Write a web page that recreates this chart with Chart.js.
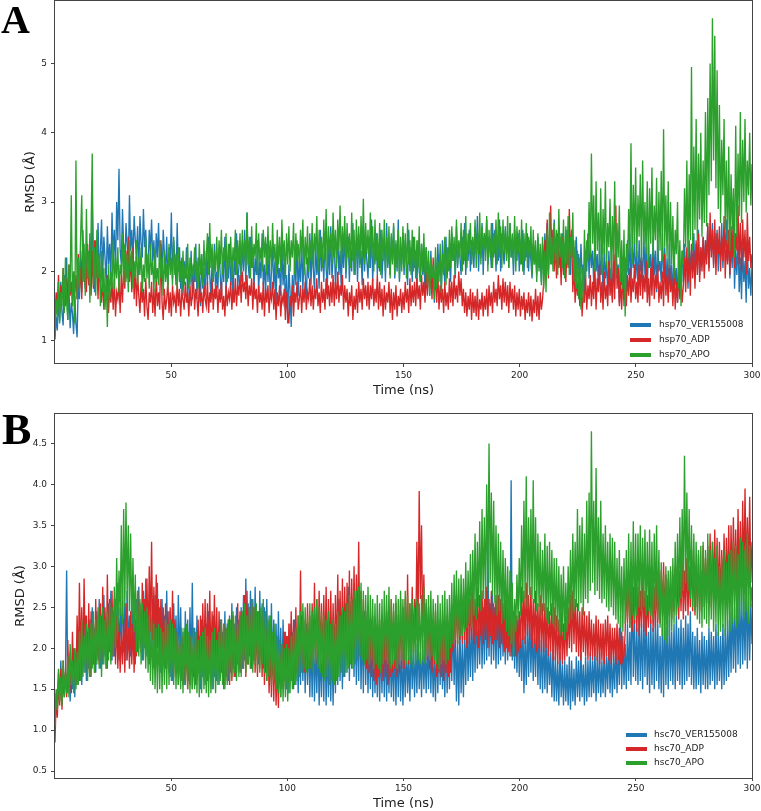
<!DOCTYPE html>
<html>
<head>
<meta charset="utf-8">
<script src="https://cdn.jsdelivr.net/npm/chart.js@4.4.0/dist/chart.umd.min.js"></script>
<style>
  html, body { margin: 0; padding: 0; background: #fff; overflow: hidden; }
  #page { position: relative; width: 761px; height: 811px; }
  canvas { position: absolute; left: 0; }
  .tag { position: absolute; font-family: "Liberation Serif", "Times New Roman", serif; font-weight: bold; line-height: 1; color: #000; }
</style>
</head>
<body>
<div id="page">
  <canvas id="chartA" width="761" height="400" style="top:0;width:761px;height:400px"></canvas>
  <canvas id="chartB" width="761" height="411" style="top:400px;width:761px;height:411px"></canvas>
  <div class="tag" style="left:1px;top:0;font-size:40px">A</div>
  <div class="tag" style="left:2px;top:408px;font-size:44px">B</div>
</div>
<script>
// labels and ticks
const namesA = ["hsp70_VER155008", "hsp70_ADP", "hsp70_APO"];
const namesB = ["hsc70_VER155008", "hsc70_ADP", "hsc70_APO"];
const lineColors = ["#1f77b4", "#d62728", "#2ca02c"];
const timeTicks = [50, 100, 150, 200, 250, 300];
const rmsdTicksA = [1, 2, 3, 4, 5];
const rmsdTicksB = [0.5, 1.0, 1.5, 2.0, 2.5, 3.0, 3.5, 4.0, 4.5];

// RMSD (Å), one value every 0.5 ns (10 per row = 5 ns)
const hsp70Ver = [
  1.02,1.35,1.15,1.60,1.28,1.85,1.40,1.22,1.95,1.50,
  2.20,1.30,1.75,1.18,1.55,1.40,1.10,1.65,1.25,1.05,
  1.85,1.60,2.30,1.70,2.60,1.95,1.75,2.40,2.05,1.80,
  2.55,1.85,2.95,2.10,1.70,2.45,2.00,2.70,1.85,2.30,
  2.75,1.95,2.50,2.20,1.80,2.65,2.10,2.40,1.90,2.85,
  2.20,2.60,2.00,3.00,2.45,3.48,2.30,2.10,2.90,2.35,
  1.95,2.70,2.40,2.05,3.10,2.30,2.60,2.15,2.80,2.45,
  2.25,2.65,1.95,2.80,2.40,2.20,2.90,2.35,2.60,2.10,
  2.00,2.60,2.30,2.75,2.15,2.45,1.90,2.55,2.20,2.70,
  2.05,2.40,1.85,2.60,2.25,2.00,2.50,1.80,2.35,2.10,
  2.85,1.90,2.45,2.20,1.80,2.70,2.00,2.35,1.75,2.20,
  1.65,2.15,1.90,2.35,1.55,2.05,1.80,2.30,1.60,2.10,
  1.85,2.40,1.60,2.20,1.95,1.50,2.25,1.75,2.05,1.65,
  2.30,1.80,2.50,1.95,1.60,2.15,1.85,2.40,1.70,2.00,
  1.75,2.35,1.95,1.60,2.20,1.85,2.50,1.70,2.10,1.90,
  2.40,1.80,2.15,1.55,2.25,1.95,2.55,1.75,2.05,2.30,
  1.85,2.45,2.00,2.60,1.80,2.85,2.10,1.90,2.50,2.05,
  2.35,1.75,2.20,1.95,2.45,1.70,2.15,1.90,2.55,1.80,
  2.10,1.65,2.40,1.85,2.25,1.60,2.00,2.35,1.75,2.15,
  1.55,2.30,1.90,2.05,1.65,2.40,1.80,2.20,1.45,1.95,
  1.25,2.10,1.70,1.20,1.95,1.55,2.25,1.80,2.45,1.65,
  2.15,1.85,2.50,1.70,2.30,1.95,1.60,2.20,1.90,2.55,
  1.80,2.35,2.05,1.70,2.45,1.95,2.20,1.75,2.60,2.00,
  2.30,1.85,2.50,2.05,1.75,2.40,1.95,2.65,1.90,2.20,
  2.45,1.80,2.15,2.55,1.95,2.30,1.75,2.40,2.05,2.60,
  1.90,2.25,2.50,1.85,2.35,2.00,2.70,1.95,2.20,2.45,
  1.85,2.55,2.10,2.30,1.80,2.65,2.00,2.40,2.15,1.90,
  2.50,2.05,2.75,1.85,2.30,2.10,2.55,1.95,2.35,2.00,
  2.60,1.90,2.25,2.45,1.85,2.70,2.05,2.35,1.95,2.50,
  2.15,2.65,1.90,2.40,2.00,2.75,1.85,2.30,2.10,2.55,
  1.95,2.45,2.15,1.80,2.60,2.00,2.35,1.85,2.50,2.05,
  2.30,1.75,2.45,2.00,1.85,2.40,1.95,2.20,1.70,2.35,
  1.90,2.15,1.65,2.30,1.80,2.05,1.55,2.20,1.75,2.40,
  1.95,2.25,1.70,2.45,2.05,1.85,2.50,1.90,2.35,2.10,
  1.85,2.55,2.15,2.35,1.90,2.65,2.05,2.40,2.20,1.95,
  2.50,2.10,2.70,1.95,2.35,2.15,2.60,2.00,2.45,2.25,
  2.05,2.65,2.25,2.80,2.00,2.45,2.20,2.70,1.95,2.55,
  2.30,2.75,2.10,2.50,2.35,2.05,2.70,2.20,2.60,2.00,
  2.45,2.15,2.75,2.00,2.55,2.30,2.10,2.65,2.25,2.50,
  2.05,2.70,2.20,2.45,1.95,2.60,2.30,2.15,2.55,2.00,
  2.40,2.10,2.60,1.95,2.35,2.20,2.55,2.00,2.45,2.15,
  1.90,2.40,2.10,2.30,1.95,2.50,2.05,2.25,1.85,2.40,
  2.05,2.55,2.20,2.70,2.00,2.45,2.30,2.60,2.15,2.75,
  2.25,2.50,2.05,2.65,2.35,2.15,2.55,2.00,2.40,2.20,
  2.60,2.10,2.45,1.95,2.55,2.20,2.35,1.85,2.50,2.00,
  2.25,1.75,2.40,1.95,2.10,1.70,2.30,2.00,2.55,1.90,
  2.45,2.05,2.30,1.80,2.50,2.00,2.25,1.75,2.40,1.95,
  2.20,1.70,2.35,1.90,2.15,1.65,2.30,1.85,2.05,1.60,
  2.25,1.75,2.40,1.90,2.10,1.55,2.30,1.80,2.00,1.50,
  2.20,1.70,2.45,1.95,2.55,1.80,2.35,2.05,2.50,1.90,
  2.30,1.75,2.45,2.00,2.20,1.85,2.55,1.95,2.35,1.70,
  2.40,2.05,2.25,1.80,2.50,1.95,2.30,1.70,2.45,2.00,
  2.15,1.85,2.55,1.90,2.35,1.75,2.20,1.65,2.40,1.85,
  2.10,1.60,2.30,1.80,2.05,1.55,2.25,1.75,1.95,2.30,
  1.85,2.40,2.00,2.20,1.75,2.45,1.95,2.30,2.05,2.55,
  1.90,2.40,2.15,2.60,1.95,2.35,2.10,2.50,2.00,2.45,
  2.20,2.65,2.05,2.50,2.30,2.70,2.10,2.55,2.25,2.60,
  2.00,2.45,2.20,2.70,2.05,2.50,2.35,2.75,2.15,2.55,
  1.90,2.40,2.05,2.75,1.75,2.30,1.95,2.50,1.70,2.20,
  1.60,2.35,1.85,2.15,1.55,2.45,1.75,2.05,1.65,2.10
];
const hsp70Adp = [
  1.35,1.70,1.50,1.95,1.40,1.80,1.60,2.05,1.45,1.75,
  1.90,1.55,2.10,1.65,1.85,1.50,2.00,1.70,1.95,1.60,
  2.25,1.75,2.05,1.60,2.35,1.85,2.15,1.70,2.40,1.80,
  2.00,1.65,2.30,1.75,2.45,1.90,2.10,1.60,2.20,1.85,
  1.55,1.90,1.45,1.80,1.60,1.95,1.40,1.75,1.55,1.85,
  1.45,1.90,1.35,1.70,1.60,1.85,1.40,1.95,1.55,2.05,
  1.75,2.30,1.90,2.50,1.85,2.20,1.70,2.35,1.60,2.10,
  1.50,1.95,1.65,1.40,1.85,1.55,1.75,1.35,1.90,1.50,
  1.30,1.70,1.55,1.85,1.40,1.75,1.35,1.95,1.50,1.70,
  1.45,2.45,1.55,1.30,1.75,1.45,1.60,1.85,1.40,1.70,
  1.35,1.80,1.55,1.65,1.40,1.85,1.50,1.75,1.35,1.70,
  1.60,1.45,1.85,1.55,1.70,1.35,1.80,1.50,1.65,1.90,
  1.45,1.75,1.60,1.35,1.85,1.55,1.70,1.40,1.80,1.60,
  1.50,1.85,1.40,1.70,1.55,1.90,1.45,1.75,1.60,1.80,
  1.40,1.75,1.55,1.85,1.45,1.65,1.35,1.80,1.50,1.70,
  1.60,1.85,1.45,1.75,1.55,1.90,1.50,1.80,1.65,1.95,
  1.55,2.00,1.70,1.85,1.60,1.95,1.50,1.80,1.65,1.90,
  1.45,1.85,1.60,1.75,1.40,1.80,1.55,1.70,1.45,1.85,
  1.35,1.75,1.55,1.80,1.40,1.70,1.60,1.85,1.45,1.75,
  1.30,1.70,1.50,1.80,1.35,1.65,1.55,1.75,1.30,1.70,
  1.40,1.25,1.65,1.50,1.80,1.35,1.70,1.55,1.85,1.45,
  1.60,1.80,1.40,1.75,1.55,1.85,1.45,1.70,1.60,1.90,
  1.50,1.80,1.45,1.75,1.60,1.90,1.50,1.70,1.40,1.85,
  1.55,1.75,1.45,1.90,1.60,1.80,1.50,1.85,1.55,1.95,
  1.50,1.85,1.60,2.00,1.55,1.80,1.65,1.95,1.45,1.80,
  1.55,1.75,1.35,1.70,1.50,1.80,1.30,1.65,1.45,1.75,
  1.40,1.85,1.55,1.75,1.45,1.90,1.60,1.80,1.50,1.85,
  1.45,1.80,1.60,1.90,1.50,1.75,1.55,1.95,1.45,1.85,
  1.50,1.75,1.35,1.80,1.45,1.70,1.55,1.85,1.40,1.75,
  1.30,1.70,1.45,1.80,1.35,1.65,1.50,1.75,1.40,1.70,
  1.45,1.85,1.55,1.75,1.40,1.90,1.50,1.80,1.55,1.85,
  1.50,1.90,1.60,1.80,1.45,1.95,1.65,1.85,1.55,2.00,
  1.65,2.10,1.75,1.95,1.60,2.20,1.70,1.90,1.55,2.00,
  1.45,1.80,1.55,1.75,1.40,1.85,1.50,1.70,1.45,1.90,
  1.55,1.85,1.50,1.95,1.60,1.80,1.55,2.00,1.65,1.90,
  1.50,1.75,1.40,1.70,1.35,1.65,1.45,1.75,1.30,1.70,
  1.40,1.65,1.35,1.75,1.30,1.60,1.45,1.70,1.35,1.65,
  1.45,1.75,1.35,1.80,1.50,1.70,1.40,1.85,1.55,1.75,
  1.50,1.95,1.60,1.80,1.45,1.90,1.55,1.85,1.50,1.80,
  1.40,1.85,1.55,1.75,1.45,1.80,1.35,1.70,1.45,1.75,
  1.35,1.65,1.45,1.70,1.30,1.60,1.40,1.70,1.35,1.65,
  1.28,1.60,1.40,1.75,1.35,1.65,1.30,1.70,1.45,1.60,
  1.85,2.45,2.05,2.75,1.90,2.50,2.95,2.10,2.60,2.00,
  2.40,1.90,2.55,2.05,2.30,1.80,2.50,1.95,2.25,1.85,
  2.35,2.05,2.90,2.20,2.60,1.70,2.10,1.55,1.90,1.65,
  2.00,1.50,1.85,1.35,1.75,1.55,1.95,1.45,1.80,1.60,
  1.95,1.50,1.85,1.60,2.05,1.45,1.90,1.70,2.10,1.55,
  1.85,1.45,2.00,1.60,1.80,1.50,2.15,1.65,1.90,1.55,
  2.25,1.60,2.95,1.75,2.05,1.50,1.85,1.45,1.95,1.60,
  1.80,1.50,1.95,1.65,2.05,1.55,1.90,1.70,2.10,1.60,
  1.85,1.55,2.10,1.65,2.20,1.60,1.95,1.70,2.15,1.55,
  1.90,1.50,2.05,1.65,2.20,1.60,1.95,1.75,2.10,1.55,
  1.85,1.60,2.00,1.50,2.25,1.65,1.95,1.55,2.10,1.70,
  1.90,1.50,2.05,1.45,1.85,1.55,2.00,1.60,1.90,1.55,
  1.80,2.20,1.70,2.35,1.85,2.25,1.65,2.40,1.90,2.30,
  1.75,2.45,1.95,2.55,1.85,2.35,2.00,2.50,1.90,2.45,
  2.10,2.70,2.00,2.85,2.20,2.60,2.05,2.75,1.95,2.55,
  2.25,2.65,2.00,2.50,2.15,2.80,1.90,2.45,2.10,2.60,
  1.95,2.65,2.20,2.80,2.05,2.55,2.30,2.95,2.10,2.70,
  2.00,2.75,2.20,2.60,1.95,2.85,2.15,2.50,2.05,2.25
];
const hsp70Apo = [
  1.10,1.60,1.35,1.85,1.25,1.70,1.50,2.05,1.40,2.20,
  1.55,1.30,2.10,1.70,3.10,1.50,2.00,1.25,3.60,1.60,
  2.20,1.70,2.50,3.10,1.85,2.40,1.65,2.90,1.90,2.30,
  1.55,2.60,3.70,1.80,2.35,1.65,2.60,1.90,2.25,1.50,
  2.30,1.70,2.05,1.45,1.90,1.20,2.10,1.60,2.00,1.75,
  2.45,1.75,2.20,1.90,2.35,1.70,2.10,1.95,2.55,1.80,
  2.40,1.85,2.25,1.70,2.45,2.00,2.30,1.75,2.15,1.90,
  2.45,1.80,2.20,1.95,2.35,1.70,2.10,1.85,2.50,1.90,
  2.25,1.75,2.40,1.95,2.15,1.70,2.35,1.85,2.05,1.80,
  2.45,1.90,2.20,1.65,2.30,1.85,2.10,1.75,2.40,1.95,
  2.20,1.80,2.50,1.95,2.25,1.75,2.35,1.85,2.15,1.70,
  2.30,1.80,2.10,1.90,2.40,1.75,2.20,1.85,2.05,1.95,
  2.35,1.85,2.15,1.75,2.40,1.95,2.25,1.80,2.45,1.90,
  2.20,2.55,1.95,2.70,2.05,2.40,1.85,2.30,2.00,2.50,
  1.90,2.45,2.10,2.60,1.95,2.35,2.15,2.55,1.85,2.40,
  2.05,2.50,1.90,2.35,2.15,2.60,1.95,2.45,2.10,2.55,
  1.95,2.60,2.15,2.45,2.00,2.85,2.10,2.50,1.90,2.65,
  2.05,2.40,2.20,2.70,1.95,2.55,2.15,2.35,2.00,2.60,
  2.20,2.50,1.95,2.65,2.10,2.45,2.00,2.70,2.15,2.40,
  1.95,2.60,2.10,2.50,2.00,2.75,2.15,2.45,1.90,2.55,
  2.10,2.65,2.00,2.45,2.20,2.70,1.95,2.55,2.15,2.40,
  2.05,2.60,2.20,2.75,1.95,2.50,2.10,2.65,2.00,2.45,
  2.15,2.70,2.05,2.55,2.25,2.80,2.00,2.60,2.20,2.50,
  2.05,2.75,2.15,2.90,2.00,2.65,2.25,2.55,2.10,2.85,
  2.20,2.60,2.05,2.75,2.30,2.95,2.10,2.65,2.25,2.80,
  2.00,2.70,2.20,2.55,2.05,2.85,2.15,2.60,1.95,2.75,
  2.15,2.65,2.05,2.80,2.20,3.05,2.10,2.70,2.25,2.60,
  2.05,2.85,2.20,2.65,2.00,2.75,2.15,2.55,2.05,2.70,
  1.95,2.60,2.15,2.75,2.00,2.50,2.10,2.65,1.90,2.55,
  2.10,2.70,1.95,2.45,2.05,2.60,1.90,2.50,2.00,2.65,
  2.05,2.55,1.90,2.70,2.10,2.45,1.95,2.60,2.00,2.50,
  1.90,2.45,2.05,2.65,1.85,2.40,2.00,2.55,1.95,2.35,
  1.80,2.30,1.65,2.20,1.90,2.10,1.60,2.35,1.75,2.15,
  1.85,2.40,1.70,2.25,1.95,2.50,1.80,2.35,2.00,2.60,
  2.05,2.65,2.15,2.50,1.95,2.75,2.10,2.45,2.20,2.70,
  2.00,2.60,2.15,2.80,2.05,2.55,2.25,2.70,2.10,2.50,
  2.20,2.75,2.05,2.60,2.25,2.85,2.10,2.65,2.30,2.55,
  2.15,2.80,2.00,2.60,2.20,2.70,2.05,2.55,2.25,2.75,
  2.10,2.85,2.20,2.65,2.05,2.75,2.25,2.60,2.15,2.80,
  2.05,2.70,2.20,2.55,2.10,2.80,2.00,2.65,2.25,2.60,
  2.10,2.75,2.00,2.55,2.15,2.70,2.05,2.50,2.20,2.65,
  1.95,2.60,2.10,2.45,1.85,2.55,2.00,2.40,1.80,2.50,
  1.75,2.30,1.70,2.60,1.95,2.85,2.10,2.50,2.00,2.70,
  2.15,2.60,1.95,2.90,2.20,2.55,2.05,2.75,1.90,2.65,
  2.10,2.80,1.95,2.50,2.20,2.85,1.85,2.45,1.75,2.30,
  1.60,2.20,1.45,2.05,1.55,2.60,1.90,2.45,2.15,3.00,
  2.20,3.70,2.40,3.10,2.00,3.30,2.30,2.85,2.10,3.20,
  1.95,2.90,2.25,3.30,2.05,2.70,2.35,3.05,1.90,2.80,
  2.15,3.30,1.95,2.70,2.20,2.95,1.85,2.45,1.75,2.60,
  1.35,2.40,2.00,2.90,2.25,3.85,2.10,3.25,2.40,3.50,
  2.20,3.10,2.50,3.40,2.15,3.60,2.35,3.00,2.25,3.30,
  2.05,3.20,2.40,3.50,2.20,2.95,2.45,3.35,2.10,3.15,
  2.30,3.45,2.15,4.05,2.35,3.10,2.20,3.30,2.05,3.00,
  2.10,2.80,1.90,2.60,2.25,3.00,1.75,2.45,1.50,2.30,
  2.10,3.20,2.35,3.60,2.20,3.40,2.45,4.95,2.30,3.80,
  2.60,4.20,2.45,3.70,2.75,4.00,2.50,3.60,2.70,4.30,
  2.65,4.50,3.10,5.00,3.30,5.65,3.60,5.40,3.20,4.90,
  2.90,4.40,2.70,3.90,3.10,4.20,2.60,3.60,2.40,3.80,
  2.30,3.40,2.60,3.20,2.20,4.10,2.50,3.70,2.80,4.30,
  2.70,3.90,3.00,4.20,2.85,3.60,3.10,4.00,2.95,3.55
];
const hsc70Ver = [
  1.05,1.45,1.25,1.70,1.35,1.85,1.30,1.60,1.40,1.75,
  2.95,1.45,1.85,1.35,1.70,1.50,2.00,1.40,1.95,1.55,
  2.05,1.60,2.30,1.55,2.15,1.70,2.40,1.60,2.20,1.75,
  2.35,1.65,2.50,1.80,2.25,1.70,2.45,1.85,2.60,1.75,
  2.40,1.80,2.65,1.90,2.30,1.75,2.55,1.95,2.70,1.85,
  2.45,1.90,2.60,2.00,2.80,1.85,2.50,2.05,2.75,1.95,
  2.55,1.85,2.70,2.05,2.40,1.90,2.65,2.10,2.50,1.80,
  2.60,1.95,2.75,2.10,2.45,1.85,2.70,2.00,2.85,1.90,
  2.55,1.80,2.70,2.00,2.45,1.75,2.65,1.95,2.80,1.85,
  2.50,1.70,2.60,1.90,2.40,1.75,2.70,1.85,2.45,1.65,
  2.35,1.60,2.55,1.85,2.40,1.70,2.65,1.80,2.50,1.60,
  2.20,1.55,2.45,1.75,2.35,1.60,2.50,1.70,2.80,1.65,
  2.25,1.55,2.40,1.70,2.15,1.50,2.35,1.65,2.20,1.55,
  2.30,1.60,2.45,1.75,2.20,1.50,2.40,1.65,2.25,1.60,
  2.15,1.55,2.35,1.70,2.20,1.50,2.45,1.65,2.30,1.60,
  2.40,1.70,2.55,1.75,2.30,1.65,2.50,1.80,2.35,1.70,
  2.50,1.75,2.65,1.85,2.85,1.80,2.55,1.90,2.70,1.75,
  2.60,1.85,2.75,1.95,2.45,1.80,2.70,1.90,2.55,1.75,
  2.50,1.70,2.60,1.80,2.40,1.65,2.55,1.75,2.35,1.60,
  2.30,1.55,2.45,1.65,2.25,1.50,2.35,1.60,2.20,1.50,
  2.15,1.45,2.30,1.60,2.20,1.50,2.35,1.55,2.10,1.45,
  2.25,1.55,2.40,1.60,2.20,1.45,2.30,1.55,2.15,1.40,
  2.10,1.40,2.20,1.35,2.05,1.45,2.15,1.30,2.00,1.40,
  2.15,1.35,2.25,1.30,2.05,1.40,2.20,1.35,2.10,1.30,
  2.25,1.45,2.40,1.55,2.60,1.60,2.35,1.50,2.45,1.65,
  2.55,1.70,2.75,1.60,2.45,1.75,2.60,1.65,2.50,1.55,
  2.40,1.60,2.55,1.50,2.30,1.45,2.45,1.55,2.25,1.45,
  2.20,1.50,2.35,1.40,2.15,1.45,2.25,1.40,2.10,1.35,
  2.05,1.45,2.20,1.40,2.10,1.35,2.15,1.45,2.00,1.40,
  1.95,1.35,2.10,1.30,2.05,1.40,2.15,1.35,2.00,1.30,
  1.95,1.40,2.05,1.45,1.90,1.35,2.10,1.50,2.00,1.40,
  2.05,1.45,2.15,1.50,1.95,1.40,2.10,1.50,2.00,1.45,
  2.10,1.50,2.20,1.45,2.05,1.40,1.95,1.35,2.10,1.45,
  2.15,1.55,2.25,1.50,2.05,1.40,2.20,1.45,2.10,1.50,
  2.30,1.60,2.40,1.55,2.20,1.35,2.10,1.30,2.25,1.45,
  2.05,1.40,2.20,1.55,2.35,1.60,2.25,1.65,2.40,1.60,
  2.45,1.70,2.55,1.75,2.40,1.80,2.60,1.75,2.50,1.80,
  2.70,1.85,3.40,1.90,2.55,1.80,2.65,1.85,2.50,1.75,
  2.60,1.80,2.55,1.85,2.70,1.90,2.45,1.80,2.60,1.85,
  2.50,1.90,4.05,1.85,2.45,1.75,2.40,1.70,2.35,1.65,
  2.25,1.60,2.40,1.45,2.15,1.55,2.30,1.65,2.40,1.70,
  2.30,1.60,2.25,1.65,2.40,1.55,2.20,1.50,2.10,1.45,
  2.20,1.50,2.15,1.45,2.05,1.55,1.95,1.40,2.00,1.35,
  1.90,1.35,1.85,1.30,1.95,1.40,1.80,1.30,1.85,1.35,
  1.80,1.30,1.90,1.25,1.85,1.35,1.75,1.30,1.90,1.40,
  1.85,1.35,1.95,1.40,1.80,1.30,1.90,1.35,1.85,1.40,
  1.95,1.40,1.85,1.45,2.00,1.35,1.90,1.45,1.95,1.40,
  1.85,1.45,2.00,1.40,1.90,1.50,2.05,1.45,1.95,1.40,
  1.90,1.50,2.10,1.45,2.00,1.55,2.40,1.50,2.15,1.55,
  2.05,1.50,2.30,1.60,2.20,1.55,2.90,1.65,2.35,1.60,
  2.25,1.55,2.40,1.60,2.30,1.50,2.45,1.65,2.35,1.55,
  2.20,1.45,2.35,1.55,2.25,1.50,2.40,1.60,2.30,1.50,
  2.15,1.45,2.30,1.40,2.45,1.55,2.25,1.50,2.35,1.60,
  2.20,1.55,2.30,1.50,2.40,1.60,2.25,1.55,2.35,1.50,
  2.25,1.55,2.40,1.60,2.30,1.65,2.45,1.55,2.20,1.50,
  2.15,1.50,2.25,1.55,2.10,1.45,2.20,1.55,2.15,1.50,
  2.10,1.50,2.25,1.55,2.20,1.60,2.15,1.50,2.30,1.55,
  2.20,1.60,2.15,1.50,2.30,1.55,2.25,1.60,2.35,1.65,
  2.45,1.70,2.60,1.75,2.50,1.70,2.75,1.80,2.65,1.75,
  2.80,1.80,2.60,1.85,2.85,1.75,2.70,1.85,2.55,2.05
];
const hsc70Adp = [
  0.85,1.40,1.15,1.60,1.30,1.75,1.25,1.85,1.45,1.70,
  1.40,2.10,1.55,1.95,1.45,2.20,1.60,2.00,1.55,2.40,
  1.75,2.80,1.90,2.50,1.80,2.85,1.95,2.40,1.70,2.55,
  1.65,2.45,1.85,2.30,1.70,2.60,1.90,2.40,1.80,2.55,
  1.85,2.75,2.00,2.50,1.75,2.90,1.95,2.60,1.85,2.70,
  1.90,2.60,1.80,2.40,1.75,2.30,1.70,2.20,1.80,2.35,
  1.70,2.55,1.85,2.25,1.75,2.45,1.80,2.30,1.70,2.35,
  1.90,2.70,2.00,2.55,1.95,2.80,2.05,2.60,2.00,2.85,
  2.05,3.00,2.20,3.30,2.10,2.75,1.95,2.90,2.00,2.60,
  1.90,2.60,1.80,2.50,1.85,2.55,1.75,2.45,1.70,2.50,
  1.85,2.70,1.65,2.35,1.70,2.20,1.55,2.05,1.60,2.15,
  1.55,2.05,1.60,2.10,1.50,2.00,1.55,2.15,1.50,2.05,
  1.55,2.15,1.65,2.35,1.70,2.40,1.75,2.55,1.80,2.60,
  1.75,2.55,1.85,2.70,1.80,2.45,1.90,2.65,1.85,2.50,
  1.75,2.45,1.70,2.35,1.65,2.30,1.55,2.25,1.60,2.35,
  1.55,2.25,1.60,2.40,1.65,2.30,1.70,2.55,1.75,2.45,
  1.70,2.45,1.75,2.65,1.65,2.70,1.80,2.50,1.75,2.55,
  1.80,2.50,1.70,2.35,1.65,2.45,1.75,2.30,1.65,2.40,
  1.55,2.25,1.60,2.10,1.45,2.05,1.40,2.15,1.35,2.00,
  1.30,1.85,1.27,1.95,1.40,2.05,1.55,2.20,1.50,2.15,
  1.60,2.30,1.70,2.45,1.65,2.35,1.75,2.50,1.70,2.40,
  1.75,2.95,1.80,2.45,1.70,2.35,1.75,2.55,1.80,2.40,
  1.75,2.55,1.85,2.80,1.80,2.60,1.90,2.70,1.85,2.55,
  1.80,2.65,1.85,2.75,1.75,2.60,1.85,2.70,1.80,2.55,
  1.75,2.65,1.85,2.90,1.80,2.70,1.90,2.85,1.95,2.75,
  1.90,2.80,2.00,2.95,1.95,2.85,2.05,3.00,2.00,2.90,
  2.10,3.30,2.05,2.70,1.90,2.60,1.80,2.45,1.75,2.50,
  1.70,2.35,1.65,2.40,1.60,2.30,1.55,2.25,1.65,2.35,
  1.70,2.40,1.60,2.30,1.65,2.45,1.55,2.50,1.65,2.60,
  1.70,2.45,1.75,2.55,1.65,2.40,1.70,2.60,1.75,2.50,
  1.75,2.60,1.85,2.90,1.80,2.55,2.00,2.75,1.95,2.60,
  2.10,3.30,2.30,3.92,2.60,3.50,2.20,2.90,2.00,2.55,
  1.85,2.50,1.75,2.40,1.70,2.35,1.80,2.45,1.65,2.30,
  1.70,2.35,1.65,2.30,1.60,2.25,1.70,2.40,1.65,2.35,
  1.70,2.35,1.95,2.55,2.00,2.65,2.05,2.50,2.10,2.60,
  2.05,2.65,2.10,2.55,2.00,2.70,2.05,2.60,2.10,2.70,
  2.05,2.60,2.15,2.75,2.00,2.65,2.15,2.70,2.05,2.60,
  2.10,2.75,2.00,2.60,2.15,2.70,2.05,2.55,2.10,2.65,
  2.10,2.65,2.00,2.60,2.05,2.55,1.95,2.60,2.00,2.50,
  1.95,2.50,1.90,2.45,2.00,2.55,1.90,2.40,1.95,2.45,
  2.00,2.75,2.10,2.70,2.05,2.80,2.15,2.65,2.10,2.75,
  2.00,2.60,2.05,2.70,1.95,2.55,2.00,2.65,1.95,2.55,
  1.95,2.55,2.00,2.50,1.90,2.45,1.95,2.55,1.85,2.50,
  1.85,2.40,1.80,2.35,1.85,2.45,1.80,2.30,1.85,2.40,
  1.90,2.50,2.00,2.65,1.95,2.70,2.05,2.60,1.95,2.55,
  1.90,2.45,1.85,2.50,1.95,2.45,1.90,2.40,1.85,2.45,
  1.90,2.35,1.85,2.30,1.90,2.40,1.85,2.35,1.80,2.30,
  1.85,2.30,1.80,2.35,1.90,2.40,1.85,2.30,1.80,2.25,
  1.85,2.25,1.80,2.30,1.85,2.25,1.80,2.20,1.85,1.90,
  2.20,2.85,2.30,2.95,2.25,2.80,2.20,2.75,2.30,2.90,
  2.20,2.75,2.15,2.70,2.25,2.85,2.20,2.70,2.15,2.65,
  2.25,2.85,2.30,2.90,2.20,2.75,2.25,2.85,2.30,2.80,
  2.30,2.95,2.40,3.05,2.35,2.90,2.30,2.85,2.40,2.95,
  2.35,2.90,2.45,3.00,2.40,2.85,2.35,2.95,2.45,3.05,
  2.35,2.95,2.45,3.10,2.40,3.00,2.50,3.20,2.45,3.05,
  2.40,3.00,2.50,3.15,2.45,2.95,2.55,3.25,2.50,3.10,
  2.55,3.25,2.60,3.40,2.50,3.30,2.65,3.45,2.55,3.35,
  2.60,3.30,2.55,3.20,2.65,3.40,2.60,3.35,2.70,3.50,
  2.60,3.50,2.70,3.60,2.75,3.45,2.65,3.70,2.80,3.55,
  2.75,3.80,2.80,3.95,2.85,3.60,2.90,3.85,2.80,3.30
];
const hsc70Apo = [
  1.05,1.50,1.25,1.75,1.35,1.65,1.30,1.85,1.40,1.70,
  1.45,1.90,1.40,2.05,1.55,1.85,1.45,2.00,1.50,1.95,
  1.55,2.20,1.60,2.35,1.65,2.15,1.70,2.30,1.60,2.25,
  1.65,2.30,1.75,2.45,1.70,2.35,1.80,2.50,1.75,2.40,
  1.65,2.50,1.80,2.35,1.75,2.45,1.85,2.55,1.80,2.50,
  1.90,2.75,2.00,3.10,2.20,2.95,2.40,3.50,2.30,3.70,
  2.50,3.78,2.60,3.50,2.45,3.40,2.30,3.10,2.20,2.90,
  1.95,2.70,1.90,2.60,1.80,2.55,1.85,2.45,1.75,2.50,
  1.70,2.40,1.60,2.35,1.55,2.30,1.50,2.25,1.45,2.30,
  1.50,2.25,1.45,2.20,1.55,2.35,1.50,2.30,1.55,2.35,
  1.60,2.30,1.55,2.25,1.50,2.20,1.55,2.15,1.50,2.25,
  1.45,2.25,1.55,2.30,1.50,2.20,1.45,2.15,1.50,2.25,
  1.50,2.20,1.45,2.10,1.40,2.15,1.45,2.20,1.50,2.25,
  1.45,2.15,1.40,2.10,1.45,2.20,1.50,2.25,1.45,2.10,
  1.55,2.20,1.60,2.35,1.55,2.30,1.50,2.25,1.55,2.35,
  1.60,2.35,1.65,2.45,1.70,2.40,1.60,2.30,1.65,2.40,
  1.65,2.45,1.75,2.55,1.70,2.40,1.80,2.50,1.75,2.60,
  1.70,2.50,1.80,2.55,1.75,2.45,1.70,2.50,1.80,2.60,
  1.70,2.45,1.60,2.35,1.65,2.40,1.55,2.20,1.60,2.30,
  1.50,2.15,1.45,2.10,1.40,2.05,1.35,2.00,1.40,2.05,
  1.35,2.00,1.45,2.15,1.50,2.20,1.55,2.25,1.60,2.40,
  1.65,2.45,1.70,2.55,1.75,2.50,1.70,2.40,1.75,2.55,
  1.75,2.45,1.70,2.50,1.80,2.60,1.75,2.50,1.70,2.45,
  1.65,2.40,1.60,2.35,1.65,2.45,1.55,2.30,1.60,2.35,
  1.55,2.30,1.60,2.45,1.65,2.40,1.70,2.50,1.65,2.45,
  1.70,2.55,1.75,2.65,1.80,2.60,1.75,2.70,1.80,2.70,
  1.85,2.75,1.90,2.80,1.85,2.70,1.80,2.65,1.85,2.75,
  1.80,2.65,1.85,2.60,1.75,2.55,1.80,2.65,1.75,2.55,
  1.70,2.60,1.80,2.70,1.85,2.65,1.80,2.75,1.75,2.60,
  1.80,2.55,1.85,2.65,1.75,2.60,1.80,2.70,1.85,2.60,
  1.85,2.70,1.80,2.65,1.85,2.55,1.80,2.60,1.75,2.50,
  1.80,2.60,1.85,2.55,1.80,2.65,1.85,2.75,1.80,2.60,
  1.90,2.65,1.85,2.70,1.90,2.60,1.85,2.55,1.80,2.65,
  1.75,2.55,1.80,2.65,1.85,2.70,1.80,2.60,1.85,2.65,
  2.00,2.80,2.05,2.90,2.10,2.95,2.05,2.85,2.15,2.90,
  2.15,2.85,2.20,3.05,2.25,2.95,2.30,3.15,2.25,3.20,
  2.40,3.40,2.35,3.30,2.50,3.55,2.45,3.70,2.60,3.60,
  2.60,4.00,2.70,4.50,2.80,3.90,2.65,3.80,2.55,3.50,
  2.40,3.40,2.45,3.30,2.30,3.20,2.35,3.10,2.20,3.00,
  2.15,2.95,2.05,2.80,1.90,2.60,2.20,2.90,2.35,3.10,
  2.40,3.50,2.55,3.80,2.60,4.10,2.50,3.60,2.65,3.70,
  2.60,4.05,2.55,3.60,2.45,3.40,2.50,3.30,2.40,3.20,
  2.45,3.40,2.35,3.25,2.30,3.30,2.40,3.20,2.30,3.10,
  2.25,3.10,2.20,3.00,2.15,2.90,2.20,3.00,2.10,2.80,
  2.20,3.00,2.30,3.20,2.35,3.40,2.45,3.30,2.50,3.70,
  2.45,3.50,2.55,3.60,2.40,3.40,2.60,3.80,2.55,3.90,
  2.70,4.65,2.80,3.80,2.65,4.20,2.70,3.60,2.60,3.80,
  2.55,3.40,2.60,3.50,2.50,3.30,2.45,3.40,2.50,3.35,
  2.40,3.30,2.35,3.10,2.30,3.20,2.25,3.00,2.20,3.10,
  2.30,3.20,2.35,3.40,2.25,3.30,2.40,3.55,2.35,3.40,
  2.40,3.40,2.50,3.50,2.45,3.35,2.50,3.45,2.40,3.30,
  2.45,3.45,2.40,3.30,2.35,3.40,2.45,3.50,2.35,3.20,
  2.25,3.05,2.15,2.90,2.10,3.00,2.05,2.95,2.15,3.00,
  2.20,3.10,2.30,3.30,2.40,3.40,2.50,3.60,2.60,3.70,
  2.70,4.35,2.80,3.90,2.70,3.70,2.60,3.50,2.50,3.40,
  2.45,3.30,2.35,3.20,2.30,3.25,2.25,3.30,2.35,3.20,
  2.30,3.40,2.25,3.20,2.35,3.30,2.20,3.10,2.30,3.25,
  2.15,3.00,2.20,3.10,2.25,3.20,2.15,3.05,2.20,3.15,
  2.20,3.20,2.30,3.30,2.35,3.25,2.25,3.15,2.30,3.35,
  2.40,3.30,2.35,3.20,2.45,3.40,2.30,3.25,2.50,2.75
];

const FONT = "DejaVu Sans";
const TEXT = "#222";
const AXIS = "#444";

// frame round the plot area (matplotlib box)
const framePlugin = {
  id: "frame",
  afterDatasetsDraw(chart) {
    const { ctx, chartArea: a } = chart;
    ctx.save();
    ctx.strokeStyle = AXIS;
    ctx.lineWidth = 1;
    ctx.strokeRect(a.left - 0.5, a.top - 0.5, a.right - a.left + 1, a.bottom - a.top + 1);
    ctx.restore();
  }
};

// legend in the lower right corner, no box
const cornerLegend = {
  id: "cornerLegend",
  afterDatasetsDraw(chart, args, opts) {
    const { ctx, chartArea: a } = chart;
    ctx.save();
    ctx.font = "9px " + FONT;
    ctx.textBaseline = "middle";
    ctx.fillStyle = TEXT;
    chart.data.datasets.forEach((ds, i) => {
      const y = a.bottom - opts.first + i * opts.gap;
      ctx.strokeStyle = ds.borderColor;
      ctx.lineWidth = 4;
      ctx.beginPath();
      ctx.moveTo(a.right - opts.swatch, y);
      ctx.lineTo(a.right - opts.swatch + 21, y);
      ctx.stroke();
      ctx.fillText(ds.label, a.right - opts.text, y);
    });
    ctx.restore();
  }
};

function makeChart(id, names, series, yr, yTicks, fmt, lay) {
  const step = 300 / (series[0].length - 1);
  const datasets = series.map((vals, k) => ({
    label: names[k],
    data: vals.map((v, i) => ({ x: i * step, y: v })),
    borderColor: lineColors[k],
    borderWidth: 1.35,
    pointRadius: 0,
    fill: false,
    tension: 0,
    order: 2 - k
  }));
  return new Chart(document.getElementById(id), {
    type: "line",
    data: { datasets },
    plugins: [framePlugin, cornerLegend],
    options: {
      responsive: false,
      animation: false,
      devicePixelRatio: 1,
      layout: { padding: { top: lay.top, right: 9, left: 0, bottom: 0 } },
      plugins: {
        legend: { display: false },
        tooltip: { enabled: false },
        cornerLegend: lay.legend
      },
      scales: {
        x: {
          type: "linear",
          min: 0,
          max: 300,
          afterBuildTicks: s => { s.ticks = timeTicks.map(v => ({ value: v })); },
          afterFit: s => { s.height = lay.xHeight; s.paddingLeft = 0; s.paddingRight = 0; },
          ticks: { font: { family: FONT, size: 9 }, color: TEXT, padding: lay.xPad, maxRotation: 0, autoSkip: false },
          grid: { drawOnChartArea: false, drawTicks: true, tickLength: lay.tick, color: AXIS },
          border: { display: false },
          title: { display: true, text: "Time (ns)", font: { family: FONT, size: 13 }, color: TEXT, padding: { top: 0, bottom: lay.xTitlePad } }
        },
        y: {
          min: yr[0],
          max: yr[1],
          afterBuildTicks: s => { s.ticks = yTicks.map(v => ({ value: v })); },
          afterFit: s => { s.width = 55; s.paddingTop = 0; s.paddingBottom = 0; },
          ticks: { font: { family: FONT, size: 9 }, color: TEXT, padding: 4, callback: fmt },
          grid: { drawOnChartArea: false, drawTicks: true, tickLength: 4, color: AXIS },
          border: { display: false },
          title: { display: true, text: "RMSD (Å)", font: { family: FONT, size: 13 }, color: TEXT, padding: { top: lay.yTitlePad, bottom: 0 } }
        }
      }
    }
  });
}

makeChart("chartA", namesA, [hsp70Ver, hsp70Adp, hsp70Apo], [0.68, 5.9], rmsdTicksA, v => String(v), {
  top: 1, xHeight: 37, xPad: 3, tick: 4, xTitlePad: 2, yTitlePad: 23,
  legend: { first: 38, gap: 15, swatch: 122, text: 93 }
});
makeChart("chartB", namesB, [hsc70Ver, hsc70Adp, hsc70Apo], [0.415, 4.86], rmsdTicksB, v => v.toFixed(1), {
  top: 14, xHeight: 33, xPad: 2, tick: 3, xTitlePad: 0, yTitlePad: 13,
  legend: { first: 43, gap: 14, swatch: 126, text: 98 }
});
</script>
</body>
</html>
